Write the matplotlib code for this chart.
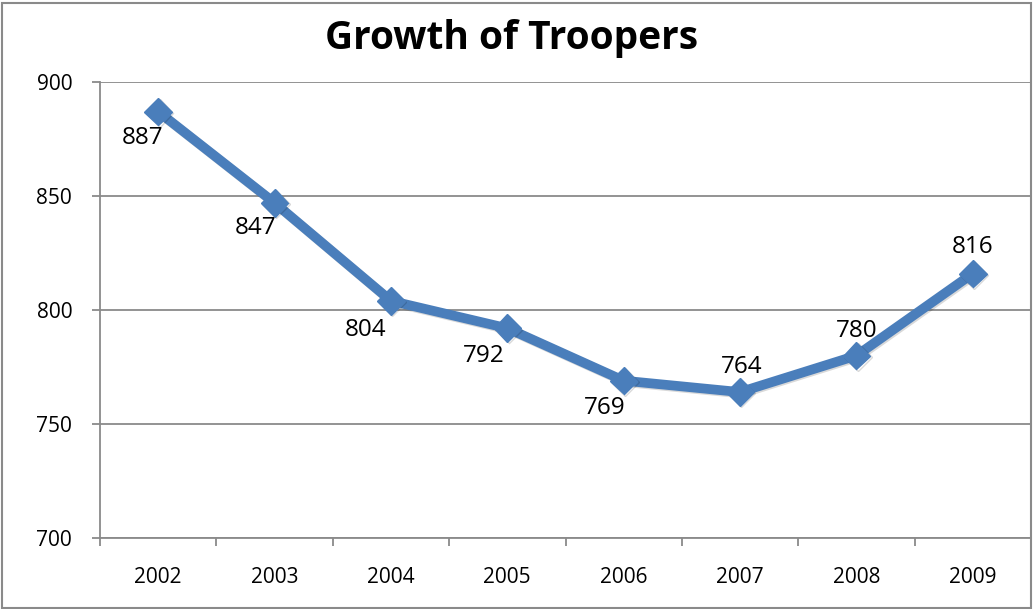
"""Growth of Troopers line chart"""
import numpy as np
import matplotlib.pyplot as plt
import matplotlib.patheffects as pe
from matplotlib.patches import Rectangle

# Data
years = ["2002", "2003", "2004", "2005", "2006", "2007", "2008", "2009"]
troopers = [887, 847, 804, 792, 769, 764, 780, 816]

# label offsets (points), mimicking Excel's auto placement
label_dx = [-11, -14, -18, -17, -14, 1, 0, 0]
label_dy = [-19, -18, -21, -20, -20, 18, 18, 19]

plt.rcParams['font.family'] = ['Open Sans', 'DejaVu Sans']
grey = "#8a8a8a"
blue = "#4a7ebb"

fig = plt.figure(figsize=(10.33, 6.09), dpi=100)
ax = fig.add_axes([100/1033, 1-538/609, (1031-100)/1033, (538-82)/609])

x = np.arange(len(years))
shadow = [pe.SimpleLineShadow(offset=(1, -1), alpha=0.15), pe.Normal()]
ax.plot(x, troopers, color=blue, lw=7, marker="D", markersize=14,
        markerfacecolor=blue, markeredgecolor=blue, solid_joinstyle="miter",
        path_effects=shadow, zorder=3)

for xi, v, dx, dy in zip(x, troopers, label_dx, label_dy):
    ax.annotate(str(v), (xi, v), xytext=(dx, dy), textcoords="offset points",
                ha="center", va="center", fontsize=17.5, color="black")

ax.set_xlim(-0.5, len(years) - 0.5)
ax.set_ylim(700, 900)
ax.set_yticks([700, 750, 800, 850, 900])
ax.yaxis.grid(True, color=grey, lw=1.3)
ax.set_axisbelow(True)

# category boundaries carry tick marks, labels sit in between
ax.set_xticks(np.arange(-0.5, len(years)), labels=[""] * (len(years) + 1))
ax.set_xticks(x, labels=years, minor=True)
ax.tick_params(axis="x", which="minor", length=0, pad=21, labelsize=15)
ax.tick_params(axis="x", which="major", length=6, color=grey, width=1.3)
ax.tick_params(axis="y", length=6, color=grey, width=1.3, pad=14, labelsize=15)

for s in ["top", "right"]:
    ax.spines[s].set_visible(False)
for s in ["left", "bottom"]:
    ax.spines[s].set_color(grey)
    ax.spines[s].set_linewidth(1.3)

fig.text(512/1033, 1-38/609, "Growth of Troopers", ha="center", va="center",
         fontsize=28, fontweight="bold")

fig.patches.append(Rectangle((2/1033, 1.5/609), 1029/1033, 605/609,
                             transform=fig.transFigure, fill=False,
                             edgecolor=grey, lw=1.5))

plt.savefig("out.png", dpi=100)
